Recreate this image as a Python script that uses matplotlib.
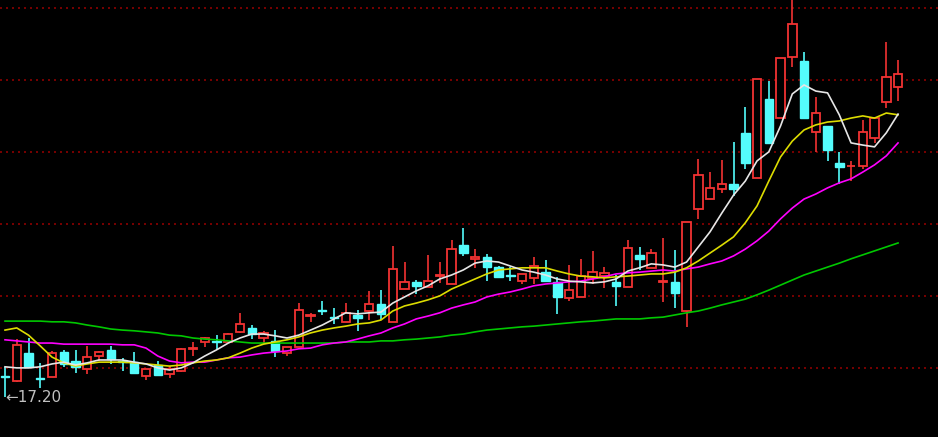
import matplotlib
matplotlib.use('Agg')
import matplotlib.pyplot as plt
from matplotlib.patches import Rectangle

# daily K-line data (price)
opens = [17.79, 17.65, 18.42, 17.73, 17.76, 18.45, 18.20, 17.98, 18.34, 18.51,
         18.20, 18.17, 17.79, 18.09, 17.84, 17.92, 18.54, 18.73, 18.76, 18.73,
         19.01, 19.12, 18.84, 18.76, 18.42, 18.59, 19.45, 19.62, 19.42, 19.29,
         19.48, 19.59, 19.79, 19.29, 20.20, 20.40, 20.26, 20.56, 20.34, 21.42,
         21.04, 21.09, 20.81, 20.59, 20.42, 20.51, 20.67, 20.40, 19.95, 19.98,
         20.51, 20.56, 20.40, 20.26, 21.15, 20.79, 20.39, 20.40, 19.59, 22.42,
         22.70, 22.98, 23.12, 24.54, 23.29, 25.48, 24.95, 26.65, 26.54, 24.56,
         24.73, 23.70, 23.61, 23.62, 24.40, 25.40, 25.81]
highs = [18.04, 18.81, 18.84, 18.15, 18.48, 18.51, 18.51, 18.62, 18.48, 18.62,
         18.29, 18.45, 17.98, 18.20, 18.06, 18.55, 18.73, 18.87, 18.92, 18.98,
         19.54, 19.20, 19.04, 19.06, 18.60, 19.81, 19.54, 19.87, 19.67, 19.81,
         19.62, 20.15, 20.17, 21.40, 20.95, 20.45, 21.15, 20.95, 21.56, 21.90,
         21.31, 21.17, 20.83, 20.81, 20.63, 21.09, 21.01, 20.54, 20.87, 21.04,
         21.26, 20.81, 20.59, 21.56, 21.37, 21.31, 21.62, 21.29, 22.07, 23.81,
         23.45, 23.79, 24.29, 25.26, 26.04, 25.98, 26.63, 28.40, 26.79, 25.54,
         24.74, 24.01, 23.76, 24.90, 24.96, 27.06, 26.56]
lows = [17.20, 17.62, 18.02, 17.45, 17.75, 18.04, 17.87, 17.84, 18.20, 18.12,
        17.92, 17.86, 17.67, 17.80, 17.73, 17.90, 18.34, 18.59, 18.51, 18.72,
        18.98, 18.81, 18.70, 18.31, 18.34, 18.58, 19.29, 19.48, 19.23, 19.28,
        19.04, 19.34, 19.34, 19.28, 20.19, 20.06, 20.25, 20.37, 20.33, 21.12,
        20.79, 20.42, 20.53, 20.42, 20.34, 20.34, 20.41, 19.51, 19.87, 19.97,
        20.34, 20.23, 19.73, 20.25, 20.73, 20.78, 19.84, 19.67, 19.15, 22.15,
        22.69, 22.87, 22.79, 23.54, 23.28, 24.25, 24.94, 26.37, 24.94, 24.01,
        23.76, 23.12, 23.20, 23.54, 24.26, 25.23, 25.42]
closes = [17.76, 18.65, 18.04, 17.70, 18.42, 18.12, 18.04, 18.31, 18.45, 18.26,
          18.17, 17.87, 17.98, 17.81, 17.98, 18.54, 18.56, 18.84, 18.73, 18.95,
          19.23, 18.95, 18.98, 18.48, 18.59, 19.62, 19.48, 19.59, 19.40, 19.54,
          19.40, 19.79, 19.51, 20.76, 20.40, 20.29, 20.42, 20.59, 21.31, 21.20,
          21.09, 20.81, 20.54, 20.56, 20.62, 20.84, 20.42, 19.98, 20.17, 20.56,
          20.67, 20.65, 20.29, 21.34, 21.04, 21.20, 20.41, 20.09, 22.06, 23.37,
          23.01, 23.12, 22.98, 23.70, 26.03, 24.26, 26.62, 27.56, 24.95, 25.09,
          24.06, 23.59, 23.62, 24.56, 24.95, 26.09, 26.17]

# moving averages as shown on the chart
ma5 = [18.04, 18.01, 18.01, 18.04, 18.12, 18.17, 18.09, 18.15, 18.23, 18.23,
       18.23, 18.17, 18.12, 18.01, 17.95, 18.01, 18.15, 18.34, 18.51, 18.70,
       18.84, 18.95, 18.95, 18.90, 18.84, 18.92, 19.06, 19.20, 19.37, 19.54,
       19.51, 19.54, 19.56, 19.81, 19.98, 20.15, 20.29, 20.48, 20.59, 20.73,
       20.92, 20.98, 20.95, 20.84, 20.73, 20.67, 20.59, 20.48, 20.42, 20.40,
       20.37, 20.40, 20.48, 20.70, 20.79, 20.90, 20.87, 20.81, 20.95, 21.37,
       21.79, 22.31, 22.81, 23.20, 23.76, 24.01, 24.73, 25.62, 25.87, 25.70,
       25.65, 25.04, 24.26, 24.20, 24.15, 24.54, 25.06]
ma10 = [19.06, 19.12, 18.92, 18.62, 18.31, 18.15, 18.06, 18.12, 18.17, 18.17,
        18.17, 18.15, 18.12, 18.09, 18.06, 18.09, 18.15, 18.20, 18.23, 18.29,
        18.42, 18.56, 18.67, 18.73, 18.79, 18.87, 18.98, 19.06, 19.12, 19.17,
        19.23, 19.26, 19.34, 19.59, 19.73, 19.81, 19.90, 20.01, 20.20, 20.34,
        20.48, 20.62, 20.73, 20.76, 20.79, 20.79, 20.79, 20.70, 20.62, 20.56,
        20.54, 20.51, 20.54, 20.56, 20.59, 20.62, 20.62, 20.67, 20.79, 20.98,
        21.20, 21.42, 21.65, 22.04, 22.51, 23.20, 23.87, 24.31, 24.62, 24.76,
        24.84, 24.87, 24.95, 25.01, 24.95, 25.09, 25.04]
ma20 = [18.79, 18.76, 18.73, 18.70, 18.70, 18.67, 18.67, 18.67, 18.67, 18.67,
        18.65, 18.65, 18.56, 18.34, 18.20, 18.15, 18.17, 18.17, 18.23, 18.29,
        18.31, 18.37, 18.42, 18.45, 18.48, 18.54, 18.56, 18.65, 18.70, 18.73,
        18.81, 18.90, 18.98, 19.12, 19.23, 19.37, 19.45, 19.54, 19.67, 19.76,
        19.84, 19.98, 20.06, 20.12, 20.20, 20.29, 20.34, 20.37, 20.40, 20.42,
        20.48, 20.54, 20.62, 20.65, 20.67, 20.70, 20.73, 20.70, 20.76, 20.81,
        20.90, 20.98, 21.12, 21.31, 21.54, 21.81, 22.15, 22.45, 22.70, 22.84,
        23.01, 23.15, 23.26, 23.45, 23.65, 23.90, 24.26]
ma60 = [19.31, 19.31, 19.31, 19.31, 19.29, 19.29, 19.26, 19.20, 19.15, 19.09,
        19.06, 19.04, 19.01, 18.98, 18.92, 18.90, 18.84, 18.81, 18.79, 18.76,
        18.73, 18.70, 18.70, 18.70, 18.70, 18.70, 18.70, 18.70, 18.70, 18.73,
        18.73, 18.73, 18.76, 18.76, 18.79, 18.81, 18.84, 18.87, 18.92, 18.95,
        19.01, 19.06, 19.09, 19.12, 19.15, 19.17, 19.20, 19.23, 19.26, 19.29,
        19.31, 19.34, 19.37, 19.37, 19.37, 19.40, 19.42, 19.48, 19.54, 19.59,
        19.67, 19.76, 19.84, 19.92, 20.04, 20.17, 20.31, 20.45, 20.59, 20.70,
        20.81, 20.92, 21.04, 21.15, 21.26, 21.37, 21.48]

grid_prices = [18, 20, 22, 24, 26, 28]

up_color = '#f23232'
down_color = '#54fcfc'
width = 0.72

fig = plt.figure(figsize=(9.38, 4.37), dpi=100, facecolor='black')
ax = fig.add_axes([0, 0, 1, 1])
ax.set_facecolor('black')

# dotted red price grid
for p in grid_prices:
    ax.axhline(p, color='#8c0000', lw=1.2, ls=(0, (1.2, 2.4)), zorder=1)

# candles
for i in range(len(closes)):
    o, h, l, c = opens[i], highs[i], lows[i], closes[i]
    if c >= o:
        ax.vlines(i, c, h, color=up_color, lw=1.2, zorder=2)
        ax.vlines(i, l, o, color=up_color, lw=1.2, zorder=2)
        ax.add_patch(Rectangle((i - width / 2, o), width, max(c - o, 0.01),
                               facecolor='black', edgecolor=up_color, lw=1.3, zorder=3))
    else:
        ax.vlines(i, l, h, color=down_color, lw=1.2, zorder=2)
        ax.add_patch(Rectangle((i - width / 2, c), width, max(o - c, 0.01),
                               facecolor=down_color, edgecolor=down_color, lw=1.0, zorder=3))

x = list(range(len(closes)))
ax.plot(x, ma60, color='#00c800', lw=1.2, zorder=4)
ax.plot(x, ma20, color='#ff00ff', lw=1.2, zorder=4)
ax.plot(x, ma10, color='#dcdc00', lw=1.2, zorder=4)
ax.plot(x, ma5, color='#e6e6e6', lw=1.2, zorder=4)

# lowest price marker
low_i = lows.index(min(lows))
ax.text(low_i, lows[low_i], '\u2190%.2f' % lows[low_i], color='#c0c0c0',
        fontsize=11, ha='left', va='center', zorder=5)

ax.set_xlim(-0.4255, 79.40)
ax.set_ylim(16.09, 28.23)
ax.axis('off')

fig.savefig('out.png', dpi=100, facecolor='black')
